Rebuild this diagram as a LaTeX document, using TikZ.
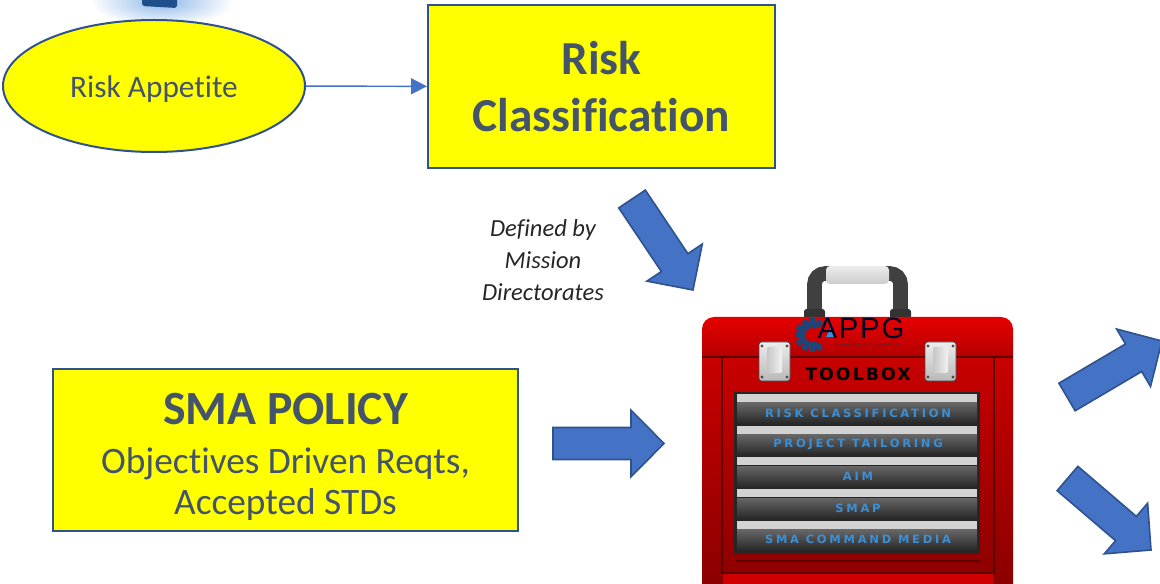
\documentclass[tikz,border=0pt]{standalone}
\usepackage{fontspec}
\setmainfont{Carlito}[Ligatures=NoCommon]
\newfontfamily\drawerfont[LetterSpace=24]{DejaVu Sans}
\newfontfamily\stencilfont[LetterSpace=12]{DejaVu Sans}
\newfontfamily\logofont[LetterSpace=6]{Liberation Sans}
\usetikzlibrary{shapes.geometric,arrows.meta,positioning,calc}
\definecolor{boxYellow}{HTML}{FFFF00}
\definecolor{edgeBlue}{HTML}{2F528F}
\definecolor{arrowBlue}{HTML}{4472C4}
\definecolor{textSlate}{HTML}{44546A}
\definecolor{lidTop}{HTML}{E60000}
\definecolor{lidBottom}{HTML}{B40000}
\definecolor{bodyTop}{HTML}{C80000}
\definecolor{bodyBottom}{HTML}{8A0000}
\definecolor{seamRed}{HTML}{5C0000}
\definecolor{drawerBlue}{HTML}{3C8FD4}
\definecolor{gearBlue}{HTML}{1F4577}
\definecolor{glowBlue}{HTML}{8FB8E8}
\definecolor{blobBlue}{HTML}{1F4E8C}

\tikzset{
  yellowbox/.style={draw=edgeBlue, line width=1.5pt, fill=boxYellow, text=textSlate, align=center, inner sep=0pt},
  link/.style={arrowBlue, line width=1.1pt, -{Triangle[length=12pt,width=12pt]}},
  blockarrow/.style={fill=arrowBlue, draw=edgeBlue, line width=1.2pt, line join=miter},
  drawerlabel/.style={text=drawerBlue, font=\drawerfont\bfseries\fontsize{8.6}{9}\selectfont, inner sep=0pt},
}

% fat arrow: #1 name, #2 tail centre, #3 tip
\newcommand\bigarrow[3]{%
  \coordinate (#1-t) at #2;
  \coordinate (#1-p) at #3;
  \coordinate (#1-n) at ($(#1-p)!24.75pt!(#1-t)$);
  \draw[blockarrow] ($(#1-t)!12pt!90:(#1-p)$) -- ($(#1-n)!12pt!-90:(#1-t)$)
    -- ($(#1-n)!25pt!-90:(#1-t)$) -- (#1-p) -- ($(#1-n)!25pt!90:(#1-t)$)
    -- ($(#1-n)!12pt!90:(#1-t)$) -- ($(#1-t)!12pt!-90:(#1-p)$) -- cycle;
}

\begin{document}
\begin{tikzpicture}[x=0.75pt, y=-0.75pt]
\useasboundingbox (0,0) rectangle (1160,584);

% glowing blob peeking in at the top
\shade[inner color=glowBlue, outer color=white] (162,2) ellipse (72 and 24);
\fill[blobBlue, rounded corners=2pt] (142,-6) -- (142,6) -- (177,8) -- (177,-6) -- cycle;

\node[yellowbox, ellipse, minimum width=226.5pt, minimum height=99pt, font=\fontsize{23.5}{28}\selectfont] (appetite) at (154,86) {\raisebox{-2.5pt}[\height][\depth]{Risk Appetite}};
\node[yellowbox, minimum width=260.25pt, minimum height=122.25pt, font=\bfseries\fontsize{35.5}{43}\selectfont] (riskclass) at (601.5,86.5) {Risk\\Classification};
\draw[link] (appetite) -- (riskclass);

\node[yellowbox, minimum width=348.75pt, minimum height=121.5pt] (policy) at (285.5,450) {};
\node[align=center, text=textSlate, font=\fontsize{28}{31}\selectfont] (policytext) at (285.5,457)
  {{\bfseries\fontsize{35.8}{38}\selectfont SMA POLICY}\\[6pt]Objectives Driven Reqts,\\Accepted STDs};

\node[font=\itshape\fontsize{18.4}{24}\selectfont, align=center, text=black!85] (definedby) at (543,260) {Defined by\\Mission\\Directorates};

\bigarrow{fromclass}{(632,199)}{(693,290)}
\bigarrow{frompolicy}{(553,443.5)}{(664,443.5)}
\bigarrow{outupper}{(1067,397)}{(1162,341)}
\bigarrow{outlower}{(1067.5,478.5)}{(1151,550)}

% toolbox: handle
\draw[line width=11pt, black!75, rounded corners=8pt] (814.5,318) -- (814.5,273.5) -- (900.5,273.5) -- (900.5,318);
\shade[top color=gray!15, bottom color=gray!40, rounded corners=3pt] (826,266) rectangle (889,284);
\fill[black!80, rounded corners=2pt] (804,309) rectangle (825,319);
\fill[black!80, rounded corners=2pt] (890,309) rectangle (911,319);

% lid and body
\shade[top color=lidTop, bottom color=lidBottom] (702,357) [rounded corners=9pt] -- (702,317) -- (1013,317) [sharp corners] -- (1013,357) -- cycle;
\shade[top color=bodyTop, bottom color=bodyBottom] (702,357) rectangle (1013,590);
\fill[lidTop!90!black] (723,574) rectangle (993,590);
\draw[seamRed, line width=1.2pt] (702,357) -- (1013,357);
\draw[seamRed, line width=1.2pt] (722,357) -- (722,573) -- (994,573) -- (994,357);
\draw[seamRed, line width=0.8pt] (735,561) -- (980,561);

% logo
\draw[gearBlue, line width=4.5pt] (812,335) ++(60:10) arc (60:300:10);
\foreach \a in {60,90,...,300}
  \fill[gearBlue, shift={(812,335)}, rotate=\a] (10,-3) rectangle (17,3);
\fill[drawerBlue] (826,337) -- (831,327) -- (836,337) -- cycle;
\node[font=\logofont\fontsize{22}{22}\selectfont, text=black!85!blue, inner sep=0pt, anchor=base] (appg) at (861,339) {APPG};
\node[font=\fontsize{2.8}{3}\selectfont, text=black!80, inner sep=0pt, anchor=north] (appgsub) at (868,343.5) {AUTOMATED PROGRAM PLAN GENERATOR};

% latches
\foreach \lx in {759,925} {
  \shade[top color=gray!15, bottom color=gray!55, draw=gray!60!black, line width=0.5pt, rounded corners=2pt] (\lx,342) rectangle ++(31,39);
  \shade[left color=gray!45, right color=gray!10, rounded corners=1.5pt] (\lx+8,347) rectangle ++(15,26);
  \foreach \dx/\dy in {3/4,28/4,3/35,28/35}
    \fill[black!70] (\lx+\dx,342+\dy) circle (1.2pt);
}
\node[font=\stencilfont\bfseries\fontsize{13}{14}\selectfont, text=black, inner sep=0pt] (toolbox) at (858,374) {TOOLBOX};

% drawers
\fill[black!85] (734,392) rectangle (980,554);
\foreach \lbl [count=\i from 0] in {RISK CLASSIFICATION, PROJECT TAILORING, AIM, SMAP, SMA COMMAND MEDIA} {
  \pgfmathsetmacro\dy{394+31.7*\i}
  \fill[gray!35] (737,\dy) rectangle (977,\dy+8);
  \shade[top color=black!60, bottom color=black!85] (737,\dy+9) rectangle (977,\dy+30);
  \node[drawerlabel] (drawer\i) at (858,\dy+19) {\lbl};
}
\end{tikzpicture}
\end{document}
